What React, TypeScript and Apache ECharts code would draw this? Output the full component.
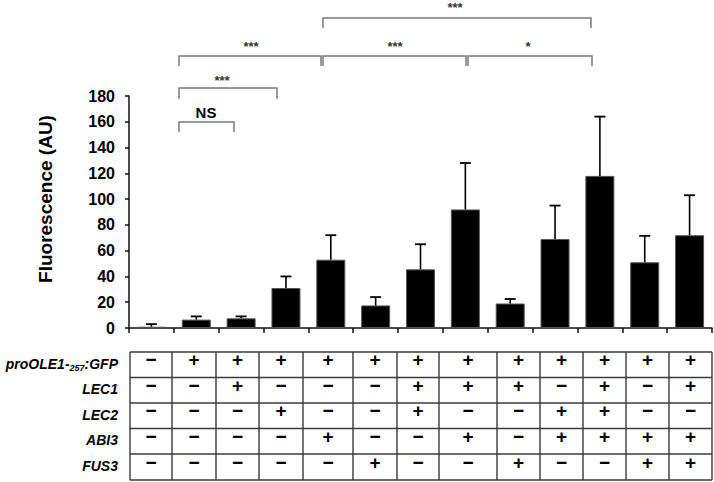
import React, { useEffect, useRef } from 'react';
import * as echarts from 'echarts';

// ---- data ----
const categories = ['1', '2', '3', '4', '5', '6', '7', '8', '9', '10', '11', '12', '13'];
const means = [1, 6.5, 7.5, 31, 53, 17.5, 45.5, 92, 19, 69, 118, 51, 72];
const errorTops = [3, 9, 9, 40, 72, 24, 65, 128, 22.5, 95, 164, 71.5, 103];
const yTicks = [0, 20, 40, 60, 80, 100, 120, 140, 160, 180];
const rowNames = ['proOLE1', 'LEC1', 'LEC2', 'ABI3', 'FUS3'];
const rowSigns = [
  '-++++++++++++',
  '--+---+++-+-+',
  '---+--+--++--',
  '----+--+-++++',
  '-----+--+--++',
];
const sigLabels = ['NS', '***', '***', '***', '*', '***'];

// ---- layout ----
const FONT = '"Liberation Sans", Arial, Helvetica, sans-serif';
const GRID = { left: 129, right: 2, top: 96, bottom: 154 };
const TABLE_COLS = [130, 172, 216, 259, 303, 353, 397, 439, 497, 540, 583, 626, 669, 712];
const TABLE_ROWS = [352, 377.5, 403, 428.5, 454, 480];
const LABEL_RIGHT = 118;
// bracket geometry: [x1, x2, y, drop, labelX, labelY]
const BRACKETS = [
  [179, 234, 122, 10, 206, 112],
  [179, 277, 88, 11, 222, 80],
  [179, 321, 56, 10, 251, 46],
  [323, 466, 56, 10, 395, 46],
  [468, 592, 56, 10, 528, 46],
  [323, 591, 18, 10, 455, 7],
];

function measure(text: string, font: string): number {
  const c = document.createElement('canvas');
  const ctx = c.getContext('2d');
  if (!ctx) return text.length * 8;
  ctx.font = font;
  return ctx.measureText(text).width;
}

export default function App() {
  const ref = useRef<HTMLDivElement>(null);

  useEffect(() => {
    document.body.style.margin = '0';
    if (!ref.current) return;
    const chart = echarts.init(ref.current, undefined, { renderer: 'svg' });

    const graphics: any[] = [];

    // y-axis title
    graphics.push({
      type: 'text',
      x: 45,
      y: 199,
      rotation: Math.PI / 2,
      style: {
        text: 'Fluorescence (AU)',
        font: `bold 19px ${FONT}`,
        fill: '#000',
        align: 'center',
        verticalAlign: 'middle',
      },
    });

    // significance brackets
    BRACKETS.forEach((b, i) => {
      const [x1, x2, y, drop, lx, ly] = b;
      graphics.push({
        type: 'polyline',
        shape: { points: [[x1, y + drop], [x1, y], [x2, y], [x2, y + drop]] },
        style: { stroke: '#7a7a7a', lineWidth: 1.5, fill: 'none' },
      });
      const isNS = sigLabels[i] === 'NS';
      graphics.push({
        type: 'text',
        x: lx,
        y: ly,
        style: {
          text: sigLabels[i],
          font: isNS ? `bold 15px ${FONT}` : `bold 13px ${FONT}`,
          fill: isNS ? '#000' : '#333',
          align: 'center',
          verticalAlign: 'middle',
        },
      });
    });

    // table grid
    const tTop = TABLE_ROWS[0];
    const tBot = TABLE_ROWS[TABLE_ROWS.length - 1];
    const tL = TABLE_COLS[0];
    const tR = TABLE_COLS[TABLE_COLS.length - 1];
    TABLE_ROWS.forEach((y) => {
      graphics.push({
        type: 'line',
        shape: { x1: tL, y1: y, x2: tR, y2: y },
        style: { stroke: '#3a3a3a', lineWidth: 1.4 },
      });
    });
    TABLE_COLS.forEach((x) => {
      graphics.push({
        type: 'line',
        shape: { x1: x, y1: tTop, x2: x, y2: tBot },
        style: { stroke: '#3a3a3a', lineWidth: 1.4 },
      });
    });

    // signs
    rowSigns.forEach((row, r) => {
      const cy = (TABLE_ROWS[r] + TABLE_ROWS[r + 1]) / 2 - 5;
      row.split('').forEach((s, c) => {
        const cx = (TABLE_COLS[c] + TABLE_COLS[c + 1]) / 2;
        graphics.push({
          type: 'text',
          x: cx,
          y: cy,
          style: {
            text: s === '+' ? '+' : '\u2212',
            font: `bold 19px ${FONT}`,
            fill: '#000',
            align: 'center',
            verticalAlign: 'middle',
          },
        });
      });
    });

    // row labels
    const mainFont = `italic bold 14px ${FONT}`;
    const subFont = `italic bold 9px ${FONT}`;
    rowNames.forEach((name, r) => {
      const cy = (TABLE_ROWS[r] + TABLE_ROWS[r + 1]) / 2 - 1;
      if (r === 0) {
        const p3 = ':GFP';
        const p2 = '257';
        const p1 = name + '-';
        const w3 = measure(p3, mainFont);
        const w2 = measure(p2, subFont);
        graphics.push({
          type: 'text', x: LABEL_RIGHT, y: cy,
          style: { text: p3, font: mainFont, fill: '#000', align: 'right', verticalAlign: 'middle' },
        });
        graphics.push({
          type: 'text', x: LABEL_RIGHT - w3, y: cy + 4,
          style: { text: p2, font: subFont, fill: '#000', align: 'right', verticalAlign: 'middle' },
        });
        graphics.push({
          type: 'text', x: LABEL_RIGHT - w3 - w2, y: cy,
          style: { text: p1, font: mainFont, fill: '#000', align: 'right', verticalAlign: 'middle' },
        });
      } else {
        graphics.push({
          type: 'text', x: LABEL_RIGHT, y: cy,
          style: { text: name, font: mainFont, fill: '#000', align: 'right', verticalAlign: 'middle' },
        });
      }
    });

    const errData = categories.map((_, i) => [i, means[i], errorTops[i]]);

    chart.setOption({
      animation: false,
      backgroundColor: '#fff',
      grid: { ...GRID, containLabel: false },
      xAxis: {
        type: 'category',
        data: categories,
        boundaryGap: true,
        axisLine: { lineStyle: { color: '#111', width: 1.5 } },
        axisTick: { show: true, length: 5, inside: false, lineStyle: { color: '#111', width: 1.5 } },
        axisLabel: { show: false },
        splitLine: { show: false },
      },
      yAxis: {
        type: 'value',
        min: yTicks[0],
        max: yTicks[yTicks.length - 1],
        interval: yTicks[1] - yTicks[0],
        axisLine: { show: true, lineStyle: { color: '#111', width: 1.5 } },
        axisTick: { show: true, length: 4, inside: false, lineStyle: { color: '#111', width: 1.5 } },
        axisLabel: {
          color: '#000',
          fontFamily: FONT,
          fontWeight: 'bold',
          fontSize: 16,
          margin: 14,
        },
        splitLine: { show: false },
      },
      series: [
        {
          type: 'bar',
          data: means,
          barWidth: 29,
          itemStyle: { color: '#000', borderColor: '#555', borderWidth: 1 },
          z: 2,
        },
        {
          type: 'custom',
          data: errData,
          z: 3,
          renderItem: (params: any, api: any) => {
            const i = api.value(0);
            const base = api.coord([i, api.value(1)]);
            const top = api.coord([i, api.value(2)]);
            const x = base[0];
            return {
              type: 'group',
              children: [
                {
                  type: 'line',
                  shape: { x1: x, y1: base[1], x2: x, y2: top[1] },
                  style: { stroke: '#000', lineWidth: 1.6 },
                },
                {
                  type: 'line',
                  shape: { x1: x - 5.5, y1: top[1], x2: x + 5.5, y2: top[1] },
                  style: { stroke: '#000', lineWidth: 1.8 },
                },
              ],
            };
          },
        },
      ],
      graphic: graphics,
    });

    return () => {
      chart.dispose();
    };
  }, []);

  return (
    <div
      ref={ref}
      style={{ width: 714, height: 482, position: 'absolute', left: 0, top: 0 }}
    />
  );
}
